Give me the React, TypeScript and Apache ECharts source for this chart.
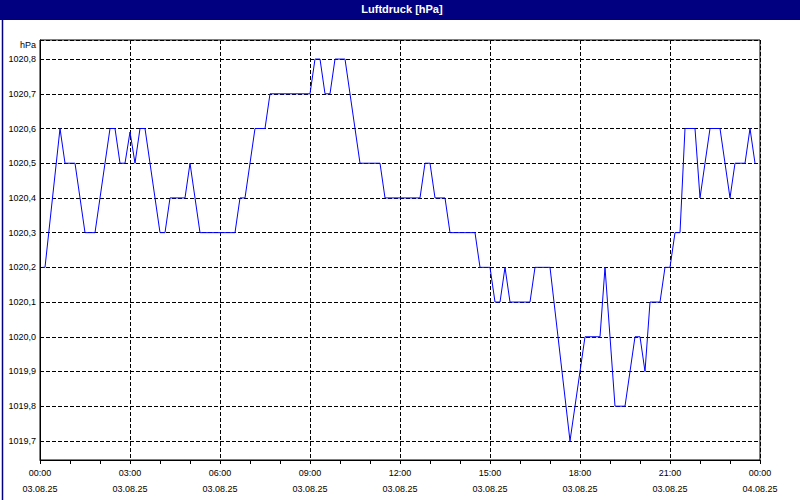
import React, { useEffect, useRef } from "react";
import * as echarts from "echarts";

const TITLE = "Luftdruck [hPa]";
const UNIT = "hPa";
// minutes since 03.08.25 00:00
const TIMES = [
  5, 10, 40, 50, 70, 90, 110, 140, 150, 160, 170, 180, 190, 200, 210, 240, 250, 260, 290, 300,
  320, 390, 400, 410, 430, 450, 460, 540, 550, 560, 570, 580, 590, 610, 640, 680, 690, 760, 770, 780,
  790, 810, 820, 870, 880, 900, 910, 920, 930, 940, 980, 990, 1020, 1060, 1090, 1120, 1130, 1150, 1170, 1190,
  1200, 1210, 1220, 1240, 1250, 1260, 1270, 1280, 1290, 1310, 1320, 1340, 1360, 1380, 1390, 1410, 1420, 1430,
];
const VALUES = [
  1020.2, 1020.2, 1020.6, 1020.5, 1020.5, 1020.3, 1020.3, 1020.6, 1020.6, 1020.5, 1020.5, 1020.59, 1020.5, 1020.6, 1020.6, 1020.3, 1020.3, 1020.4, 1020.4, 1020.5,
  1020.3, 1020.3, 1020.4, 1020.4, 1020.6, 1020.6, 1020.7, 1020.7, 1020.8, 1020.8, 1020.7, 1020.7, 1020.8, 1020.8, 1020.5, 1020.5, 1020.4, 1020.4, 1020.5, 1020.5,
  1020.4, 1020.4, 1020.3, 1020.3, 1020.2, 1020.2, 1020.1, 1020.1, 1020.2, 1020.1, 1020.1, 1020.2, 1020.2, 1019.7, 1020.0, 1020.0, 1020.2, 1019.8, 1019.8, 1020.0,
  1020.0, 1019.9, 1020.1, 1020.1, 1020.2, 1020.2, 1020.3, 1020.3, 1020.6, 1020.6, 1020.4, 1020.6, 1020.6, 1020.4, 1020.5, 1020.5, 1020.6, 1020.5,
];
const X_MIN = 0;
const X_MAX = 1440;
const X_STEP = 180;
const Y_MIN = 1019.645;
const Y_MAX = 1020.855;
const Y_STEP = 0.1;

function pad(n: number) {
  return n < 10 ? "0" + n : "" + n;
}

export default function App() {
  const ref = useRef<HTMLDivElement>(null);
  useEffect(() => {
    if (!ref.current) return;
    const chart = echarts.init(ref.current, null, { renderer: "svg" });
    const font = "Liberation Sans";
    chart.setOption({
      animation: false,
      backgroundColor: "#ffffff",
      graphic: [
        { type: "rect", left: 0, top: 0, shape: { width: 800, height: 20 }, style: { fill: "#000080" }, z: 10 },
        {
          type: "rect",
          left: 0,
          top: 0,
          shape: { x: 0.5, y: 0.5, width: 799, height: 499 },
          style: { fill: "none", stroke: "#000080", lineWidth: 1.5 },
          z: 10,
        },
        {
          type: "text",
          x: 402,
          y: 9,
          style: {
            text: TITLE,
            fill: "#ffffff",
            font: `bold 11px "${font}"`,
            textAlign: "center",
            textVerticalAlign: "middle",
          },
          z: 11,
        },
        {
          type: "text",
          x: 36,
          y: 45,
          style: {
            text: UNIT,
            fill: "#000000",
            font: `9px "${font}"`,
            textAlign: "right",
            textVerticalAlign: "middle",
          },
          z: 11,
        },
      ],
      grid: {
        left: 40,
        top: 40,
        width: 720,
        height: 420,
        show: true,
        borderColor: "#000000",
        borderWidth: 1,
        backgroundColor: "#ffffff",
      },
      xAxis: {
        type: "value",
        min: X_MIN,
        max: X_MAX,
        interval: X_STEP,
        axisLine: { show: true, lineStyle: { color: "#000000", width: 1 } },
        axisTick: { show: true, length: 4, lineStyle: { color: "#000000" } },
        minorTick: { show: true, splitNumber: 3, length: 4, lineStyle: { color: "#000000" } },
        splitLine: { show: true, lineStyle: { color: "#000000", type: [4, 2], width: 1 } },
        axisLabel: {
          margin: 5,
          color: "#000000",
          fontFamily: font,
          fontSize: 9,
          lineHeight: 16,
          formatter: (v: number) => {
            const day = v >= 1440 ? "04.08.25" : "03.08.25";
            const m = v % 1440;
            return pad(Math.floor(m / 60)) + ":" + pad(m % 60) + "\n" + day;
          },
        },
      },
      yAxis: {
        type: "value",
        min: Y_MIN,
        max: Y_MAX,
        splitNumber: 12,
        minInterval: Y_STEP,
        maxInterval: Y_STEP,
        axisLine: { show: true, lineStyle: { color: "#000000", width: 1 } },
        axisTick: { show: false },
        splitLine: { show: true, lineStyle: { color: "#000000", type: [4, 2], width: 1 } },
        axisLabel: {
          margin: 4,
          color: "#000000",
          fontFamily: font,
          fontSize: 9,
          formatter: (v: number) => {
            const r = Math.round(v * 10) / 10;
            if (Math.abs(r - v) > 1e-6) return "";
            return r.toFixed(1).replace(".", ",");
          },
        },
      },
      series: [
        {
          type: "line",
          data: TIMES.map((t, i) => [t, VALUES[i]]),
          showSymbol: false,
          symbol: "none",
          lineStyle: { color: "#0000ff", width: 1 },
          clip: true,
        },
      ],
    });
    return () => chart.dispose();
  }, []);
  return (
    <div
      ref={ref}
      style={{ position: "fixed", left: 0, top: 0, width: 800, height: 500 }}
    />
  );
}
